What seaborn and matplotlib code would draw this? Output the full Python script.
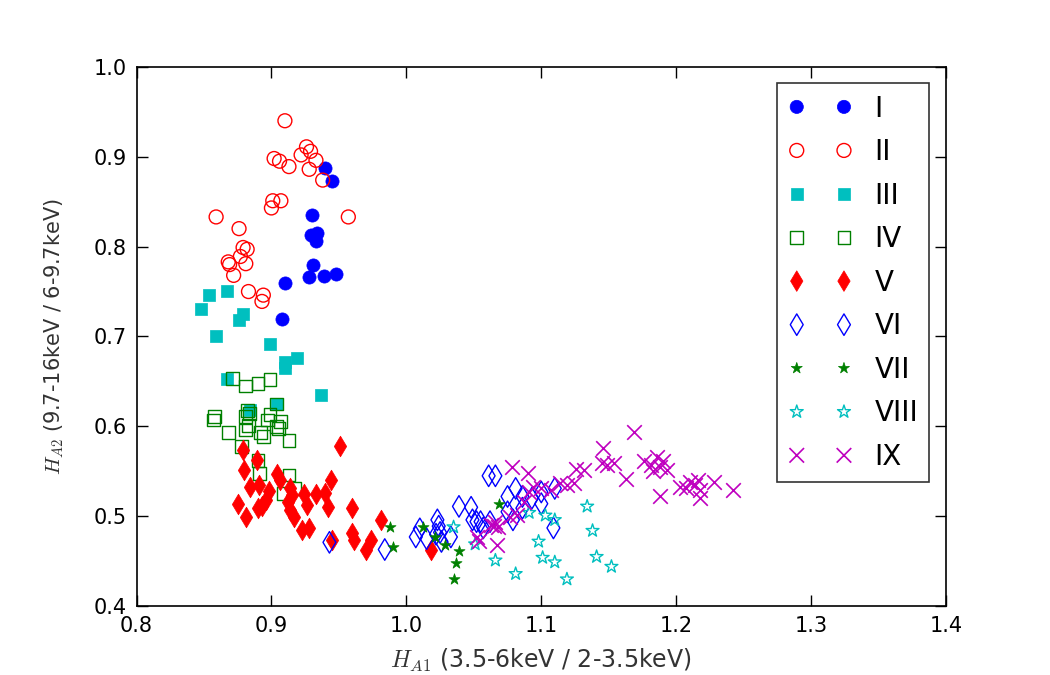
import numpy as np
import matplotlib
matplotlib.use('Agg')
import matplotlib.pyplot as plt
import pandas as pd
import seaborn as sns

# group I - blue filled circles
x_1 = [0.940, 0.945, 0.930, 0.929, 0.934, 0.933, 0.931, 0.928, 0.939, 0.948, 0.910, 0.908]
y_1 = [0.887, 0.873, 0.835, 0.813, 0.815, 0.806, 0.780, 0.766, 0.767, 0.770, 0.760, 0.719]

# group II - red open circles
x_2 = [0.910, 0.926, 0.929, 0.922, 0.902, 0.906, 0.913, 0.933, 0.928, 0.938, 0.901, 0.907,
       0.900, 0.859, 0.957, 0.876, 0.879, 0.882, 0.877, 0.869, 0.868, 0.881, 0.872, 0.883,
       0.894, 0.893]
y_2 = [0.940, 0.911, 0.906, 0.902, 0.898, 0.895, 0.889, 0.896, 0.886, 0.874, 0.851, 0.851,
       0.843, 0.833, 0.833, 0.820, 0.799, 0.797, 0.789, 0.780, 0.783, 0.781, 0.768, 0.750,
       0.746, 0.739]

# group III - cyan filled squares
x_3 = [0.854, 0.867, 0.848, 0.879, 0.876, 0.859, 0.899, 0.910, 0.919, 0.910, 0.867, 0.937,
       0.904, 0.884]
y_3 = [0.746, 0.751, 0.731, 0.725, 0.718, 0.700, 0.692, 0.672, 0.676, 0.665, 0.653, 0.635,
       0.625, 0.618]

# group IV - green open squares
x_4 = [0.871, 0.881, 0.890, 0.899, 0.904, 0.858, 0.882, 0.884, 0.881, 0.899, 0.897, 0.907,
       0.857, 0.868, 0.881, 0.892, 0.894, 0.904, 0.905, 0.913, 0.878, 0.890, 0.891, 0.913,
       0.917, 0.909, 0.883]
y_4 = [0.653, 0.645, 0.648, 0.652, 0.625, 0.611, 0.618, 0.614, 0.611, 0.613, 0.607, 0.605,
       0.607, 0.593, 0.596, 0.593, 0.589, 0.600, 0.598, 0.584, 0.578, 0.562, 0.548, 0.546,
       0.531, 0.525, 0.601]

# group V - red diamonds
x_5 = [0.951, 0.879, 0.889, 0.880, 0.904, 0.906, 0.944, 0.884, 0.891, 0.898, 0.914, 0.915,
       0.924, 0.933, 0.940, 0.875, 0.896, 0.893, 0.890, 0.912, 0.926, 0.942, 0.960, 0.914,
       0.917, 0.881, 0.923, 0.928, 0.945, 0.960, 0.961, 0.974, 0.970, 0.981, 1.018]
y_5 = [0.578, 0.574, 0.563, 0.551, 0.547, 0.540, 0.540, 0.532, 0.535, 0.528, 0.531, 0.524,
       0.525, 0.525, 0.526, 0.514, 0.518, 0.511, 0.509, 0.516, 0.512, 0.510, 0.509, 0.507,
       0.499, 0.499, 0.485, 0.487, 0.474, 0.481, 0.474, 0.474, 0.462, 0.496, 0.462]

# group VI - blue open diamonds
x_6 = [0.943, 0.984, 1.007, 1.010, 1.015, 1.023, 1.024, 1.025, 1.022, 1.026, 1.033, 1.039,
       1.048, 1.049, 1.055, 1.057, 1.061, 1.066, 1.052, 1.062, 1.075, 1.081, 1.075, 1.079,
       1.086, 1.086, 1.093, 1.100, 1.100, 1.110, 1.109]
y_6 = [0.471, 0.463, 0.477, 0.486, 0.475, 0.496, 0.489, 0.482, 0.480, 0.472, 0.477, 0.511,
       0.510, 0.496, 0.494, 0.487, 0.545, 0.545, 0.494, 0.494, 0.522, 0.531, 0.505, 0.496,
       0.522, 0.509, 0.520, 0.514, 0.527, 0.531, 0.487]

# group VII - green stars
x_7 = [0.988, 0.990, 1.012, 1.021, 1.029, 1.039, 1.037, 1.035, 1.069]
y_7 = [0.488, 0.466, 0.488, 0.477, 0.468, 0.461, 0.448, 0.430, 0.514]

# group VIII - cyan open stars
x_8 = [1.035, 1.051, 1.066, 1.091, 1.103, 1.110, 1.098, 1.081, 1.101, 1.110, 1.119, 1.134,
       1.138, 1.141, 1.152]
y_8 = [0.488, 0.469, 0.451, 0.504, 0.501, 0.496, 0.472, 0.436, 0.454, 0.449, 0.430, 0.511,
       0.484, 0.455, 0.444]

# group IX - magenta crosses
x_9 = [1.052, 1.054, 1.063, 1.066, 1.067, 1.078, 1.090, 1.065, 1.068, 1.077, 1.082, 1.087,
       1.091, 1.094, 1.100, 1.107, 1.114, 1.119, 1.124, 1.126, 1.132, 1.146, 1.145, 1.149,
       1.154, 1.163, 1.169, 1.176, 1.181, 1.186, 1.188, 1.190, 1.183, 1.193, 1.188, 1.203,
       1.207, 1.210, 1.214, 1.216, 1.218, 1.218, 1.228, 1.242]
y_9 = [0.477, 0.473, 0.490, 0.494, 0.468, 0.555, 0.548, 0.489, 0.488, 0.499, 0.501, 0.516,
       0.527, 0.533, 0.531, 0.529, 0.537, 0.535, 0.537, 0.553, 0.551, 0.576, 0.559, 0.557,
       0.559, 0.542, 0.594, 0.561, 0.557, 0.566, 0.555, 0.561, 0.550, 0.551, 0.522, 0.533,
       0.531, 0.538, 0.535, 0.540, 0.529, 0.520, 0.538, 0.529]

labels = ['I', 'II', 'III', 'IV', 'V', 'VI', 'VII', 'VIII', 'IX']
xs = [x_1, x_2, x_3, x_4, x_5, x_6, x_7, x_8, x_9]
ys = [y_1, y_2, y_3, y_4, y_5, y_6, y_7, y_8, y_9]

# (marker, colour, filled, size)
styles = [('o', '#0000ff', True, 90),
          ('o', '#ff0000', False, 100),
          ('s', '#00bfbf', True, 75),
          ('s', '#008000', False, 85),
          ('d', '#ff0000', True, 110),
          ('d', '#0000ff', False, 120),
          ('*', '#008000', True, 70),
          ('*', '#00bfbf', False, 95),
          ('x', '#bf00bf', True, 110)]

sns.set_style('ticks', {'xtick.direction': 'in', 'ytick.direction': 'in',
                        'axes.edgecolor': 'black', 'text.color': 'black',
                        'axes.labelcolor': 'black', 'xtick.color': 'black',
                        'ytick.color': 'black'})
plt.rcParams['font.family'] = ['DejaVu Sans']
plt.rcParams['mathtext.fontset'] = 'cm'

fig = plt.figure(figsize=(10.5, 6.75), dpi=100)
ax = fig.add_subplot(1, 1, 1)
fig.subplots_adjust(left=0.13, right=0.901, top=0.901, bottom=0.102)

for lab, x, y, (mk, col, filled, sz) in zip(labels, xs, ys, styles):
    df = pd.DataFrame({'x': x, 'y': y})
    if mk == 'x':
        sns.scatterplot(data=df, x='x', y='y', marker=mk, color=col, s=sz,
                        linewidth=1.2, label=lab, ax=ax)
    elif filled:
        sns.scatterplot(data=df, x='x', y='y', marker=mk, color=col, s=sz,
                        edgecolor=col, linewidth=0.5, label=lab, ax=ax)
    else:
        sns.scatterplot(data=df, x='x', y='y', marker=mk, s=sz, facecolor='none',
                        edgecolor=col, linewidth=1.0, label=lab, ax=ax)

ax.set_xlim(0.8, 1.4)
ax.set_ylim(0.4, 1.0)
ax.set_xticks(np.arange(0.8, 1.41, 0.1))
ax.set_yticks(np.arange(0.4, 1.01, 0.1))
ax.set_xticklabels(['0.8', '0.9', '1.0', '1.1', '1.2', '1.3', '1.4'])
ax.set_yticklabels(['0.4', '0.5', '0.6', '0.7', '0.8', '0.9', '1.0'])
ax.tick_params(top=True, right=True, length=8, width=1, labelsize=15, pad=7,
               colors='black')
for sp in ax.spines.values():
    sp.set_linewidth(1.2)
    sp.set_color('black')

ax.set_xlabel(r'$H_{A1}$ (3.5-6keV / 2-3.5keV)', fontsize=17, color='#333333',
              labelpad=8)
ax.set_ylabel(r'$H_{A2}$ (9.7-16keV / 6-9.7keV)', fontsize=15, color='#333333',
              labelpad=20)

leg = ax.legend(loc='upper right', scatterpoints=2, scatteryoffsets=[0.5],
                fontsize=20, frameon=True, fancybox=False, labelspacing=0.56,
                handlelength=2.3, handletextpad=0.8, borderpad=0.4,
                borderaxespad=0.6)
leg.get_frame().set_edgecolor('black')
leg.get_frame().set_linewidth(1.2)
for t in leg.get_texts():
    t.set_color('black')

fig.savefig('out.png', dpi=100)
